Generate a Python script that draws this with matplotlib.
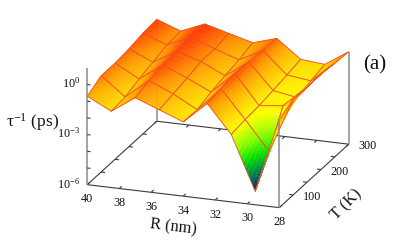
import numpy as np
import matplotlib
matplotlib.use('Agg')
import matplotlib.pyplot as plt
from matplotlib.colors import LinearSegmentedColormap
from mpl_toolkits.mplot3d.art3d import Poly3DCollection
from mpl_toolkits.mplot3d import proj3d

plt.rcParams['font.family'] = ['Liberation Serif', 'DejaVu Serif']
plt.rcParams['mathtext.fontset'] = 'custom'
plt.rcParams['mathtext.rm'] = 'Liberation Serif'
plt.rcParams['mathtext.it'] = 'Liberation Serif:italic'
plt.rcParams['mathtext.bf'] = 'Liberation Serif:bold'
plt.rcParams['mathtext.default'] = 'regular'

R = [40, 38.5, 37, 35.5, 34, 32.5, 31, 29.5, 28]
T = [50, 100, 150, 200, 250, 300]
# log10(tau^-1 / ps^-1), one list per temperature
rate_T50  = [-0.70, -1.43, -0.45, -1.00, -1.55, -0.28, -1.96, -5.19, -0.72]
rate_T100 = [-0.23, -1.34, -0.18, -0.81, -1.58, -0.17, -1.83, -3.56, -0.29]
rate_T150 = [-0.24, -1.02,  0.01, -0.62, -1.29, -0.01, -1.76, -1.59, -0.30]
rate_T200 = [-0.14, -0.77,  0.04, -0.39, -1.07, -0.08, -1.61, -1.86, -0.26]
rate_T250 = [ 0.03, -0.50,  0.13, -0.39, -0.88, -0.15, -1.44, -1.62, -0.39]
rate_T300 = [ 0.10, -0.43,  0.17, -0.22, -0.61, -0.18, -1.26, -1.39, -0.46]
rates = np.array([rate_T50, rate_T100, rate_T150, rate_T200, rate_T250, rate_T300])

R_ticks = [40, 38, 36, 34, 32, 30, 28]
T_ticks = [100, 200, 300]
T_minor = [100, 150, 200, 250]
Z_ticks = [0, -3, -6]
Z_minor = [0, -1, -2, -3, -4, -5]

cmap = LinearSegmentedColormap.from_list('pal', [
    (0.00, '#0b1f6e'), (0.15, '#007a50'), (0.30, '#00e000'), (0.44, '#80ff00'),
    (0.61, '#ffff00'), (0.70, '#ffe000'), (0.83, '#ffb000'), (0.89, '#ff9000'),
    (0.98, '#ff4000'), (1.00, '#ff3000')])
vmin, vmax = -5.2, 0.2

fig = plt.figure(figsize=(4.09, 2.44), dpi=100)
S = 305.0
left, bottom = 218 - 0.5135 * S, (244 - 106) - 0.5135 * S
ax = fig.add_axes([left / 409, bottom / 244, S / 409, S / 244],
                  projection='3d', proj_type='ortho', computed_zorder=False)
ax.set_box_aspect((204.5, 204.5, 124))
ax.view_init(elev=19.3, azim=-70.1)
ax.set_xlim(40, 28)
ax.set_ylim(50, 300)
ax.set_zlim(-6, 1)
ax.set_axis_off()

AXC = '#3c3c3c'
VC = '#8a8a8a'
def seg(x, y, z, c=AXC, lw=0.8, zo=0):
    ax.plot(x, y, z, color=c, lw=lw, zorder=zo, solid_capstyle='butt')

Rl, Rh = R[0], R[-1]
Tl, Th = T[0], T[-1]
# base frame
seg([Rl, Rh], [Tl, Tl], [-6, -6])
seg([Rh, Rh], [Tl, Th], [-6, -6])
seg([Rh, Rl], [Th, Th], [-6, -6])
seg([Rl, Rl], [Th, Tl], [-6, -6])
# verticals behind the surface
seg([Rl, Rl], [Th, Th], [-6, rates[-1, 0]], VC, 1.1)
seg([Rh, Rh], [Th, Th], [-6, rates[-1, -1]], VC, 1.1)
# ticks
for r in R_ticks:
    seg([r, r], [Tl, Tl + 9], [-6, -6])
    seg([r, r], [Th, Th - 9], [-6, -6])
for t in T_minor:
    seg([Rh, Rh + 0.25], [t, t], [-6, -6])
    seg([Rl, Rl - 0.25], [t, t], [-6, -6])

# surface: painted cell by cell from back to front, colours shaded inside each cell
n = 10
s = np.linspace(0, 1, n + 1)
GRID = '#f0502a'
k = 10
for j in range(len(T) - 2, -1, -1):
    for i in range(len(R) - 1):
        u, v = np.meshgrid(s, s)
        X = R[i] + (R[i + 1] - R[i]) * u
        Y = T[j] + (T[j + 1] - T[j]) * v
        Z = (rates[j, i] * (1 - u) * (1 - v) + rates[j, i + 1] * u * (1 - v)
             + rates[j + 1, i] * (1 - u) * v + rates[j + 1, i + 1] * u * v)
        verts, cols = [], []
        for a in range(n - 1, -1, -1):
            for b in range(n):
                verts.append([(X[a, b], Y[a, b], Z[a, b]), (X[a, b + 1], Y[a, b + 1], Z[a, b + 1]),
                              (X[a + 1, b + 1], Y[a + 1, b + 1], Z[a + 1, b + 1]),
                              (X[a + 1, b], Y[a + 1, b], Z[a + 1, b])])
                cols.append(cmap((Z[a:a + 2, b:b + 2].mean() - vmin) / (vmax - vmin)))
        pc = Poly3DCollection(verts, facecolors=cols, edgecolors=cols, linewidths=0.3, zorder=k)
        ax.add_collection3d(pc, autolim=False)
        ex = [R[i], R[i + 1], R[i + 1], R[i], R[i]]
        ey = [T[j], T[j], T[j + 1], T[j + 1], T[j]]
        ez = [rates[j, i], rates[j, i + 1], rates[j + 1, i + 1], rates[j + 1, i], rates[j, i]]
        seg(ex, ey, ez, GRID, 0.6, k + 1)
        k += 2

# verticals in front
seg([Rl, Rl], [Tl, Tl], [-6, 1], VC, 1.1, k + 1)
seg([Rh, Rh], [Tl, Tl], [-6, rates[0, -1]], VC, 1.1, k + 1)
for z in Z_minor:
    seg([Rl, Rl - 0.2], [Tl, Tl], [z, z], AXC, 0.8, k + 1)

# tick labels, placed in 2D at the projected position of their axis point
M = ax.get_proj()
def label(x, y, z, txt, **kw):
    x2, y2, _ = proj3d.proj_transform(x, y, z, M)
    ax.text2D(x2, y2, txt, transform=ax.transData, va='center', fontsize=8.7,
              color='#111111', zorder=k + 2, **kw)

for r in R_ticks:
    label(r, Tl, -6.87, str(r), ha='center')
for t in T_ticks:
    label(Rh - 1.19, t, -6, str(t), ha='center')
for z in Z_ticks:
    label(Rl + 0.44, Tl, z, rf'$10^{{{z}}}$', ha='right')

# axis titles and panel tag
fig.text(173 / 409, 1 - 227 / 244, 'R (nm)', ha='center', va='center', rotation=-7, fontsize=11.8, color='#111111')
fig.text(347 / 409, 1 - 205 / 244, 'T (K)', ha='center', va='center', rotation=45, fontsize=11.8, color='#111111')
fig.text(33 / 409, 1 - 122 / 244, 'τ$^{-1}$ (ps)', ha='center', va='center', fontsize=12.5, color='#111111')
fig.text(375 / 409, 1 - 65 / 244, '(a)', ha='center', va='center', fontsize=15, color='#111111')

fig.savefig('out.png', dpi=100)
